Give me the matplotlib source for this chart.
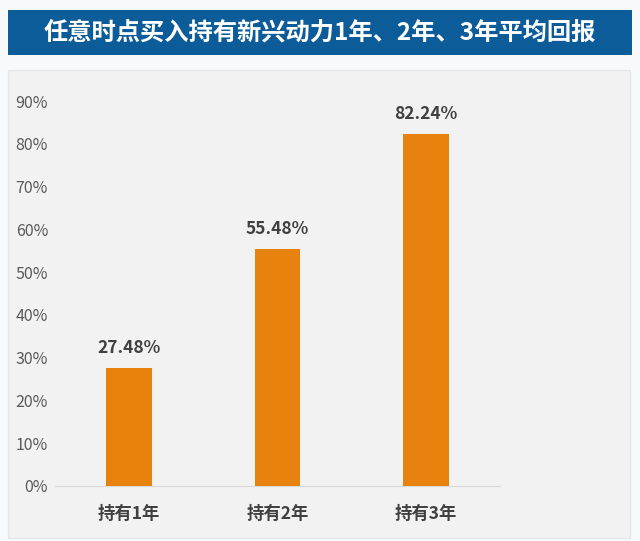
import matplotlib.pyplot as plt
from matplotlib.patches import Rectangle
from matplotlib.ticker import FuncFormatter

plt.rcParams['font.family'] = ['Noto Sans CJK SC', 'DejaVu Sans']

# data
title = "任意时点买入持有新兴动力1年、2年、3年平均回报"
cats = ["持有1年", "持有2年", "持有3年"]
vals = [27.48, 55.48, 82.24]
yticks = [0, 10, 20, 30, 40, 50, 60, 70, 80, 90]

fig = plt.figure(figsize=(6.4, 5.41), dpi=100)
fig.patch.set_facecolor("#f8f9fb")

# title bar
fig.patches.append(Rectangle((8/640, 1-55/541), 624/640, 45/541,
                             transform=fig.transFigure, facecolor="#0b5c99",
                             edgecolor="none", zorder=-1))
fig.text(0.5, 1-32.5/541, title, color="white", fontsize=17.5, fontweight="bold",
         ha="center", va="center")

# gray panel behind the axes
fig.patches.append(Rectangle((8/640, 1-538/541), 622/640, 468/541,
                             transform=fig.transFigure, facecolor="#f2f2f2",
                             edgecolor="#e6e6e6", linewidth=1, zorder=-1))

ax = fig.add_axes([55/640, 1-486/541, 445/640, 385/541])
ax.set_facecolor("none")
x = range(len(cats))
bars = ax.bar(x, vals, width=0.31, color="#e8820e", zorder=3)
for b, v in zip(bars, vals):
    ax.annotate(f"{v:.2f}%", (b.get_x() + b.get_width()/2, v),
                xytext=(0, 8), textcoords="offset points",
                ha="center", va="bottom", fontsize=12.5, fontweight="bold",
                color="#404040")

ax.set_xlim(-0.5, 2.5)
ax.set_ylim(0, 90)
ax.set_yticks(yticks)
ax.yaxis.set_major_formatter(FuncFormatter(lambda v, p: f"{v:.0f}%"))
ax.set_xticks(list(x))
ax.set_xticklabels(cats, fontsize=12.5, fontweight="bold", color="#404040")
ax.tick_params(axis="y", length=0, labelsize=11.5, labelcolor="#595959", pad=5)
ax.tick_params(axis="x", length=0, pad=14)
for s in ["top", "right", "left"]:
    ax.spines[s].set_visible(False)
ax.spines["bottom"].set_color("#d9d9d9")

fig.savefig("out.png", dpi=100, facecolor=fig.get_facecolor())
